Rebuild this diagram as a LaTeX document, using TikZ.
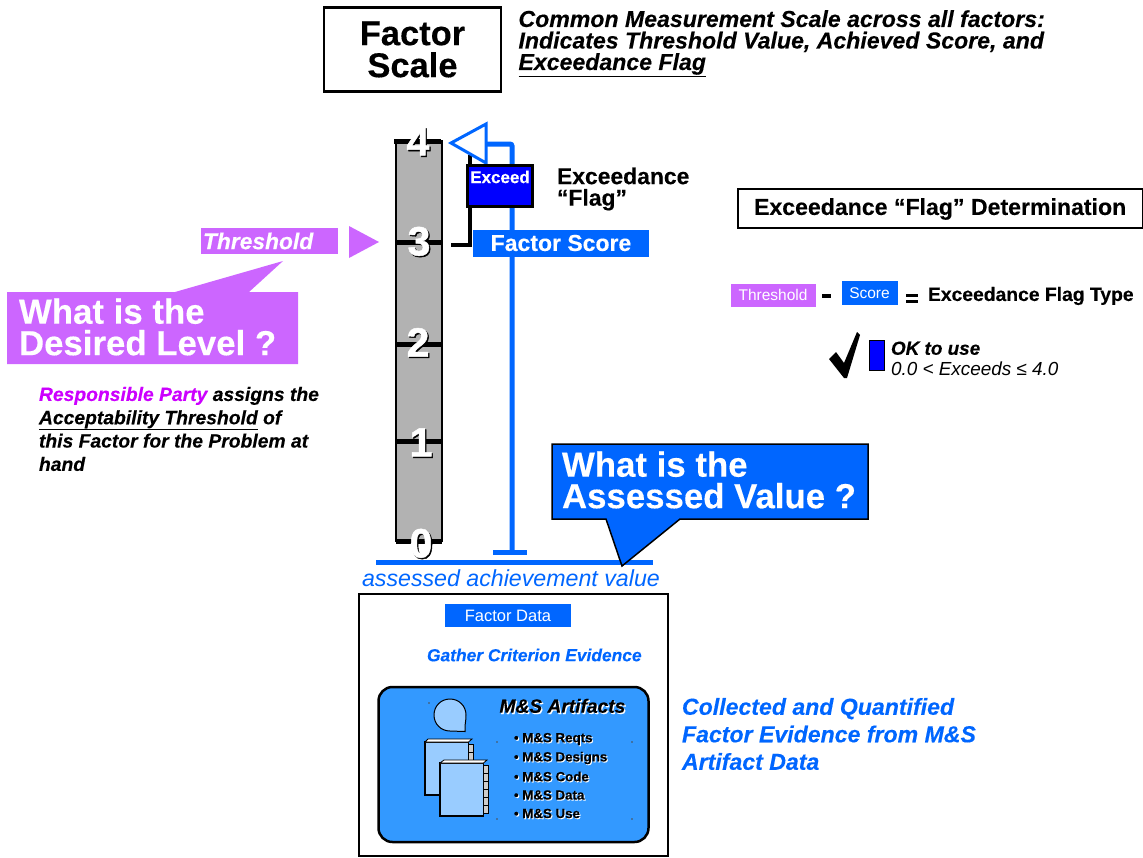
\documentclass[tikz,border=0pt]{standalone}
\usepackage{fontspec}
\setmainfont{Liberation Sans}[BoldFeatures={FakeBold=0.25},BoldItalicFeatures={FakeBold=0.25}]
\newfontfamily\numfont{Liberation Sans}[BoldFeatures={FakeBold=1.2}]
\definecolor{bluemain}{HTML}{0066FF}
\definecolor{purp}{HTML}{CC66FF}
\definecolor{magen}{HTML}{CC00FF}
\definecolor{flagblue}{HTML}{0000FF}
\definecolor{artblue}{HTML}{3399FF}
\definecolor{lightb}{HTML}{99CCFF}
\definecolor{barg}{HTML}{B2B2B2}
\newcommand{\shad}[4][1.3pt]{\leavevmode\rlap{\raisebox{-#1}{\kern#1\textcolor{#3}{#4}}}\textcolor{#2}{#4}}
\newcommand{\fs}[2]{\fontsize{#1}{#2}\selectfont}
\tikzset{
  txt/.style={inner sep=0pt,outer sep=0pt,align=left},
  lbl/.style={txt,anchor=west},
  tick/.style={black,line width=5pt},
  num/.style={txt,anchor=center,font=\fs{41}{41}\numfont\bfseries},
  bluebar/.style={bluemain,line width=5pt},
  hdr/.style={txt,anchor=west,font=\fs{23.1}{21.5}\bfseries\itshape},
  bul/.style={txt,anchor=west,font=\fs{13.3}{13.3}\bfseries},
  speck/.style={fill=black!70,circle,inner sep=0.6pt},
  book/.style={draw=black,line width=1.5pt,fill=lightb},
  strip/.style={draw=black,line width=0.8pt,fill=white},
  tab/.style={draw=black,line width=0.8pt,fill=black!20}
}
\begin{document}
\begin{tikzpicture}[x=1pt,y=-1pt]
\useasboundingbox (0,0) rectangle (1143,857);
% title
\node[draw=black,line width=2.5pt,minimum width=177pt,minimum height=84pt,inner sep=0pt,align=center,font=\fs{34.5}{32}\bfseries] (title) at (412.5,49.5) {Factor\\Scale};
\node[hdr] (hdr) at (518.5,43.5) {Common Measurement Scale across all factors:\\Indicates Threshold Value, Achieved Score, and\\\underline{Exceedance Flag}};
% bar
\node[draw=black,line width=1.5pt,fill=barg,minimum width=46pt,minimum height=400pt,inner sep=0pt] (bar) at (419,341) {};
\coordinate (t4) at (394,141); \coordinate (t4e) at (441,141);
\coordinate (t3) at (396,242.5); \coordinate (t3e) at (442,242.5);
\coordinate (t2) at (396,344.5); \coordinate (t2e) at (442,344.5);
\coordinate (t1) at (396,441); \coordinate (t1e) at (442,441);
\coordinate (t0) at (396,541); \coordinate (t0e) at (442,541);
\draw[tick] (t4) -- (t4e); \draw[tick] (t3) -- (t3e); \draw[tick] (t2) -- (t2e); \draw[tick] (t1) -- (t1e); \draw[tick] (t0) -- (t0e);
\node[num] (n4) at (418,142) {\shad{white}{black}{4}};
\node[num] (n3) at (419,242) {\shad{white}{black}{3}};
\node[num] (n2) at (418,343) {\shad{white}{black}{2}};
\node[num] (n1) at (421,443) {\shad{white}{black}{1}};
\node[num] (n0) at (421,544) {\shad{white}{black}{0}};
% blue pole
\coordinate (poletop) at (512,144);
\coordinate (polebot) at (512,552);
\coordinate (baseL) at (493,552); \coordinate (baseR) at (527,552);
\coordinate (axisL) at (376,562); \coordinate (axisR) at (653,562);
\coordinate (tip) at (451,143); \coordinate (triT) at (486,124); \coordinate (triB) at (486,163);
\coordinate (triM) at (486,144);
\draw[bluebar,rounded corners=2pt] (triM) -- (poletop) -- (polebot);
\draw[bluebar] (baseL) -- (baseR);
\draw[bluebar] (axisL) -- (axisR);
% black flag staff
\coordinate (st1) at (470,155); \coordinate (st2) at (470,245); \coordinate (st3) at (451,245);
\draw[black,line width=3.5pt] (st1) -- (st2) -- (st3);
\draw[draw=bluemain,line width=3pt,fill=white] (tip) -- (triT) -- (triB) -- cycle;
\node[draw=black,line width=2.5pt,fill=flagblue,minimum width=65pt,minimum height=41pt,inner sep=0pt] (flag) at (500,186) {};
\node[txt,text=white,font=\fs{17}{17}\bfseries] (exc) at (500,177) {Exceed};
\node[lbl,font=\fs{22.9}{21.5}\bfseries] (exl) at (557,189) {Exceedance\\“Flag”};
\node[fill=bluemain,minimum width=176pt,minimum height=27pt,inner sep=0pt,text=white,font=\fs{23}{23}\bfseries] (fsc) at (561,243) {Factor Score};
% threshold
\node[fill=purp,minimum width=137pt,minimum height=26pt,inner sep=0pt] (thr) at (269.5,241) {};
\node[lbl,text=white,font=\fs{22.8}{22.8}\bfseries\itshape] (thrt) at (203,241) {Threshold};
\coordinate (ta) at (349,226); \coordinate (tb) at (379,242); \coordinate (tc) at (349,258);
\fill[purp] (ta) -- (tb) -- (tc) -- cycle;
% desired callout
\coordinate (dl) at (7,292); \coordinate (dr) at (298,364);
\fill[purp] (dl) -- (175,292) -- (283,261) -- (249,292) -- (298,292) -- (dr) -- (7,364) -- cycle;
\node[lbl,text=white,font=\fs{34.8}{31.5}\bfseries] (dtxt) at (19,327) {What is the\\Desired Level ?};
% responsible
\node[lbl,font=\fs{19.3}{23.3}\bfseries\itshape] (resp) at (39,429) {\textcolor{magen}{Responsible Party} assigns the\\\underline{Acceptability Threshold} of\\this Factor for the Problem at\\hand};
% assessed callout
\coordinate (al) at (552,444); \coordinate (ar) at (868,519);
\draw[draw=black,line width=1.5pt,fill=bluemain] (al) -- (868,444) -- (ar) -- (680,519) -- (622,566) -- (606,519) -- (552,519) -- cycle;
\node[lbl,text=white,font=\fs{34.8}{31.5}\bfseries] (atxt) at (562,480) {What is the\\Assessed Value ?};
\node[lbl,text=bluemain,font=\fs{23.2}{23.2}\itshape] (ach) at (362,578.5) {assessed achievement value};
% right panel
\node[draw=black,line width=1.5pt,minimum width=405pt,minimum height=39pt,inner sep=0pt] (det) at (940.5,208.5) {};
\node[lbl,font=\fs{23.1}{23.1}\bfseries] (dett) at (754,209) {Exceedance “Flag” Determination};
\node[fill=purp,minimum width=85pt,minimum height=23pt,inner sep=0pt,text=white,font=\fs{15.5}{15.5}] (th2) at (773,295) {Threshold};
\node[fill=bluemain,minimum width=56pt,minimum height=24pt,inner sep=0pt,text=white,font=\fs{15.5}{15.5}] (sc2) at (869.5,293) {Score};
\coordinate (mA) at (822,295.5); \coordinate (mB) at (831,295.5);
\draw[black,line width=4pt] (mA) -- (mB);
\coordinate (eA) at (906,295); \coordinate (eB) at (918,295);
\coordinate (eC) at (906,301.5); \coordinate (eD) at (918,301.5);
\draw[black,line width=3pt] (eA) -- (eB) (eC) -- (eD);
\node[lbl,font=\fs{19.3}{19.3}\bfseries] (eft) at (928,296) {Exceedance Flag Type};
\fill[black] (829,359) -- (836,352) -- (844,363) -- (857,332) -- (860,335) -- (847,378) -- (844,378) -- cycle;
\node[draw=black,line width=1.5pt,fill=flagblue,minimum width=15pt,minimum height=30pt,inner sep=0pt] (mini) at (877,355.5) {};
\node[lbl,font=\fs{18.9}{20.5}\itshape] (ok) at (891,358.5) {\textbf{OK to use}\\0.0 < Exceeds ≤ 4.0};
% bottom box
\node[draw=black,line width=2.5pt,minimum width=309pt,minimum height=262pt,inner sep=0pt] (bot) at (513.5,725) {};
\node[fill=bluemain,minimum width=126pt,minimum height=23pt,inner sep=0pt,text=white,font=\fs{16.5}{16.5}] (fd) at (508,615.5) {Factor Data};
\node[lbl,text=bluemain,font=\fs{17.4}{17.4}\bfseries\itshape] (gce) at (427,655) {Gather Criterion Evidence};
\node[draw=black,line width=2.5pt,fill=artblue,rounded corners=14pt,minimum width=270pt,minimum height=155pt,inner sep=0pt] (art) at (513.5,764.5) {};
% head
\draw[black,line width=1pt,fill=lightb] (465,726) .. controls (465.5,722) and (466,719) .. (466,715) .. controls (466,706) and (459,699) .. (450,699) .. controls (441,699) and (434,706) .. (434,715) .. controls (434,724) and (441,731) .. (450,731) -- (465,731.5) -- cycle;
% books
\draw[tab] (468,744) rectangle (473,752); \draw[tab] (468,752) rectangle (473,760);
\draw[book] (425,742) rectangle (468.5,795);
\draw[strip] (425,742) -- (428,739) -- (472,739) -- (468.5,742) -- cycle;
\draw[book] (440,763) rectangle (483.5,816);
\draw[strip] (440,763) -- (444,760) -- (487,760) -- (483.5,763) -- cycle;
\foreach \yy in {765,773,781,789,797,805}{\draw[tab] (483.5,\yy) rectangle (488,\yy+8);}
% specks
\node[speck] (s1) at (429,703) {}; \node[speck] (s2) at (497,742) {}; \node[speck] (s3) at (632,742) {};
\node[speck] (s4) at (497,819) {}; \node[speck] (s5) at (632,819) {};
\node[lbl,font=\fs{19.2}{19.2}\bfseries\itshape] (artt) at (499.5,706.5) {\shad{black}{white}{M\&S Artifacts}};
\node[bul] (b1) at (514,739.5) {\shad[1pt]{black}{white}{• M\&S Reqts}};
\node[bul] (b2) at (514,758.5) {\shad[1pt]{black}{white}{• M\&S Designs}};
\node[bul] (b3) at (514,777) {\shad[1pt]{black}{white}{• M\&S Code}};
\node[bul] (b4) at (514,795.5) {\shad[1pt]{black}{white}{• M\&S Data}};
\node[bul] (b5) at (514,814) {\shad[1pt]{black}{white}{• M\&S Use}};
\node[lbl,text=bluemain,font=\fs{23.1}{27.5}\bfseries\itshape] (coll) at (682,734) {Collected and Quantified\\Factor Evidence from M\&S\\Artifact Data};
\end{tikzpicture}
\end{document}
